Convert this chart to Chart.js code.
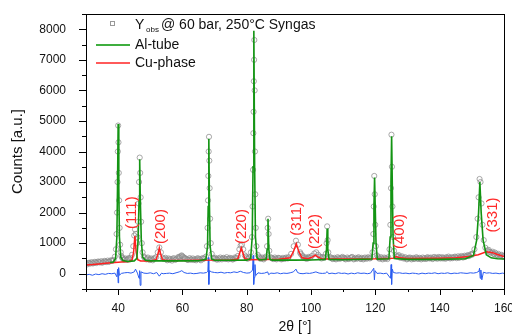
<!DOCTYPE html>
<html>
<head>
<meta charset="utf-8">
<script src="https://cdn.jsdelivr.net/npm/chart.js@4.4.1/dist/chart.umd.min.js"></script>
<style>
html, body { margin: 0; padding: 0; background: #fff; }
#wrap { width: 512px; height: 334px; }
</style>
</head>
<body>
<div id="wrap"><canvas id="xrd"></canvas></div>
<script>
// --- DATA (2theta [deg], counts) ---
const yObs = [
  [30,330],[31,360],[32,345],[33,370],[34,385],[35,360],[36,400],[37,390],[38,420],[38.6,450],
  [39.0,560],[39.3,800],[39.5,1300],[39.65,2000],[39.8,3000],[39.9,4000],[40.0,4850],[40.1,4300],
  [40.2,3300],[40.3,2400],[40.45,1500],[40.6,950],[40.8,700],[41.0,580],[41.5,500],[42,470],[43,480],
  [43.8,520],[44.3,620],[44.7,900],[45.0,1250],[45.25,1450],[45.5,1300],[45.8,1000],[46.0,1200],
  [46.2,1700],[46.35,2300],[46.5,3000],[46.7,3800],[46.85,3300],[47.0,2500],[47.15,1700],[47.35,1000],
  [47.6,700],[48,560],[49,500],[50,470],[51,480],[51.8,540],[52.3,700],[52.8,860],[53.3,700],[53.9,520],
  [55,470],[56,450],[57,480],[58,470],[59,520],[59.8,580],[60.6,520],[61.5,460],[62.5,470],[63.5,450],
  [64.5,480],[65.5,470],[66.5,490],[67.3,560],[67.6,900],[67.8,1500],[67.95,2400],[68.05,3200],
  [68.15,4000],[68.25,4480],[68.35,3700],[68.45,2800],[68.6,1800],[68.8,1000],[69.1,650],[69.6,520],
  [70.5,480],[71.5,470],[72.5,500],[73.5,480],[74.5,490],[75.5,470],[76.5,500],[77.2,580],[77.7,800],
  [78.1,920],[78.5,950],[78.9,800],[79.4,600],[80,520],[80.8,540],[81.3,700],[81.6,1200],[81.8,2200],
  [81.95,3400],[82.05,4600],[82.12,5300],[82.2,6300],[82.28,7000],[82.35,7650],[82.45,6000],
  [82.55,4000],[82.65,2600],[82.8,1500],[83.0,900],[83.4,620],[84,520],[85,500],[85.9,560],[86.3,900],
  [86.5,1500],[86.65,1800],[86.8,1300],[87.0,750],[87.4,540],[88,500],[89,490],[90,510],[91,480],
  [92,500],[93,540],[93.8,650],[94.6,900],[95.3,1080],[95.9,950],[96.6,700],[97.4,560],[98.3,500],
  [99.2,520],[100.2,580],[101.0,660],[101.6,700],[102.2,620],[103,540],[104,520],[104.6,650],
  [104.85,1000],[105.0,1550],[105.15,1100],[105.35,700],[105.8,540],[106.5,500],[107.5,490],
  [108.5,510],[109.5,520],[110.5,490],[111.5,500],[112.5,530],[113.5,490],[114.5,510],[115.5,480],
  [116.5,500],[117.5,510],[118.5,520],[119.1,700],[119.35,1300],[119.5,2200],[119.65,3200],
  [119.8,2600],[119.95,1600],[120.15,900],[120.5,600],[121,520],[122,500],[123,490],[124,540],
  [124.4,800],[124.65,1600],[124.85,2800],[125.0,4550],[125.15,3500],[125.3,2200],[125.5,1200],
  [125.8,750],[126.3,600],[127,580],[128,540],[129,510],[130,490],[131,500],[132,480],[133,510],
  [134,500],[135,490],[136,520],[137,510],[138,500],[139,530],[140,520],[141,500],[142,540],[143,520],
  [144,510],[145,540],[146,520],[147,550],[148,560],[149,580],[150,620],[150.8,800],[151.4,1200],
  [151.8,1800],[152.1,2500],[152.4,3100],[152.7,3000],[153.0,2300],[153.3,1600],[153.7,1100],
  [154.2,850],[154.8,760],[155.5,720],[156.2,680],[157,640],[158,610],[159,600],[160,580]
];

// extra observed points between the ones above (background band)
const yObsBg = [
  [30.25,300],[30.75,350],[31.25,330],[31.75,380],[32.25,340],[32.75,390],[33.25,350],[33.75,400],
  [34.25,370],[34.75,410],[35.25,380],[35.75,420],[36.25,380],[36.75,430],[37.25,400],[37.75,440],
  [38.25,430],[41.25,520],[41.75,460],[42.25,500],[42.75,450],[43.25,510],[43.75,470],
  [48.25,520],[48.75,470],[49.25,530],[49.75,450],[50.25,500],[50.75,440],[51.25,510],
  [54.25,480],[54.75,520],[55.25,440],[55.75,500],[56.25,480],[56.75,430],[57.25,510],[57.75,460],
  [58.25,500],[58.75,550],[59.25,560],[59.75,600],[60.25,550],[60.75,500],[61.25,490],[61.75,450],
  [62.25,510],[62.75,460],[63.25,500],[63.75,470],[64.25,440],[64.75,510],[65.25,480],[65.75,440],
  [66.25,510],[66.75,500],[69.75,490],[70.25,520],[70.75,460],[71.25,500],[71.75,530],[72.25,470],
  [72.75,520],[73.25,490],[73.75,540],[74.25,470],[74.75,520],[75.25,500],[75.75,470],[76.25,530],
  [76.75,520],[79.75,560],[80.25,490],[80.75,520],[83.75,560],[84.25,490],[84.75,530],[85.25,470],
  [85.75,520],[87.75,520],[88.25,480],[88.75,530],[89.25,470],[89.75,520],[90.25,500],[90.75,470],
  [91.25,520],[91.75,490],[92.25,530],[92.75,500],[96.75,650],[97.25,600],[97.75,520],[98.25,540],
  [98.75,490],[99.25,550],[99.75,530],[102.75,560],[103.25,500],[103.75,550],[106.25,530],
  [106.75,480],[107.25,520],[107.75,470],[108.25,540],[108.75,490],[109.25,500],[109.75,550],
  [110.25,520],[110.75,470],[111.25,530],[111.75,480],[112.25,510],[112.75,550],[113.25,470],
  [113.75,520],[114.25,490],[114.75,540],[115.25,500],[115.75,520],[116.25,470],[116.75,530],
  [117.25,490],[117.75,540],[118.25,500],[120.75,560],[121.25,490],[121.75,540],[122.25,470],
  [122.75,530],[123.25,510],[123.75,480],[126.75,560],[127.25,610],[127.75,520],[128.25,570],
  [128.75,500],[129.25,540],[129.75,470],[130.25,520],[130.75,530],[131.25,470],[131.75,520],
  [132.25,500],[132.75,540],[133.25,480],[133.75,520],[134.25,470],[134.75,530],[135.25,510],
  [135.75,480],[136.25,540],[136.75,500],[137.25,530],[137.75,480],[138.25,550],[138.75,510],
  [139.25,490],[139.75,550],[140.25,500],[140.75,540],[141.25,520],[141.75,490],[142.25,510],
  [142.75,560],[143.25,500],[143.75,540],[144.25,530],[144.75,560],[145.25,510],[145.75,570],
  [146.25,540],[146.75,580],[147.25,530],[147.75,590],[148.25,570],[148.75,610],[149.25,590],
  [149.75,640],[150.25,660],[155.25,780],[155.75,700],[156.5,720],[156.75,650],[157.25,690],
  [157.75,620],[158.25,650],[158.75,580],[159.25,620],[159.75,560]
];

const alTube = [
  [37.5,370],[38.5,385],[39.2,500],[39.6,1200],[39.8,2800],[40.0,4900],[40.2,2800],[40.4,1200],
  [40.8,550],[41.5,430],[43,400],[45,420],[45.8,500],[46.2,1100],[46.5,2400],[46.7,3750],[46.9,2400],
  [47.2,1100],[47.6,550],[48.5,440],[50,420],[55,420],[60,420],[65,425],[67.3,470],[67.8,900],
  [68.0,2200],[68.2,4420],[68.4,2200],[68.6,900],[69.1,480],[70,440],[75,440],[80,445],[81.2,500],
  [81.7,1200],[81.95,3500],[82.2,7950],[82.45,3500],[82.7,1200],[83.2,520],[84,450],[86.0,470],
  [86.35,800],[86.6,1800],[86.85,800],[87.2,470],[88,445],[95,445],[100,450],[104.4,470],[104.8,800],
  [105.0,1480],[105.2,800],[105.6,470],[110,455],[118.9,480],[119.3,1000],[119.55,2200],[119.75,3150],
  [119.95,2200],[120.2,1000],[120.6,480],[124.2,490],[124.6,1200],[124.85,3000],[125.05,4500],
  [125.25,3000],[125.5,1200],[125.9,500],[130,470],[140,470],[148,490],[150.5,600],[151.5,1100],
  [152.1,2000],[152.5,3000],[152.9,2000],[153.5,1100],[154.5,620],[156,520],[158,490],[160,480]
];

const cuPhase = [
  [30,285],[32,300],[34,320],[36,340],[38,360],[40,375],[42,390],[43.5,400],[44.3,450],[44.8,700],
  [45.2,1230],[45.6,700],[46.1,460],[47,415],[50,420],[51.8,460],[52.4,650],[52.8,840],[53.2,650],
  [53.8,460],[55,430],[60,435],[65,440],[70,445],[75,450],[77.2,480],[77.8,680],[78.3,850],[78.8,680],
  [79.4,490],[81,460],[85,462],[90,470],[93.5,520],[94.5,720],[95.4,980],[96.2,720],[97.2,520],
  [99,490],[100.5,550],[101.3,610],[102.1,550],[103.5,480],[110,480],[120,490],[125.5,510],
  [126.5,560],[127.5,520],[130,500],[140,510],[145,525],[149,560],[152,620],[154.5,720],[156.5,690],
  [158,630],[160,560]
];

const yDiff = [
  [30,-40],[31,-20],[32,-50],[33,-10],[34,-30],[35,0],[36,-20],[37,10],[38,0],[39,20],[39.6,-100],
  [39.85,150],[40.0,-300],[40.15,200],[40.4,-50],[41,10],[42,30],[43,40],[44,20],[45,60],[45.4,150],
  [46,20],[46.5,-150],[46.7,100],[46.85,-380],[47.1,60],[48,20],[49,10],[50,30],[51,0],[52,40],
  [52.8,-80],[53.5,20],[54,0],[55,10],[56,20],[57,0],[58,30],[59,60],[59.8,100],[60.5,40],[61.5,10],
  [62.5,20],[63.5,0],[64.5,10],[65.5,30],[66.5,20],[67.5,40],[67.9,80],[68.05,530],[68.2,-350],
  [68.4,100],[69,60],[70,40],[71,30],[72,50],[73,20],[74,40],[75,30],[76,60],[77,40],[78,80],[79,40],
  [80,20],[81,30],[81.8,120],[82.0,600],[82.15,-350],[82.35,-120],[82.55,300],[82.8,-60],[83.5,30],
  [84.5,10],[85.5,20],[86.5,60],[86.8,-30],[87.5,20],[88.5,10],[89.5,30],[90.5,0],[91.5,20],[92.5,10],
  [93.5,30],[94.5,60],[95.3,150],[95.8,40],[96.5,10],[97.5,0],[98.5,20],[99.5,10],[100.5,30],
  [101.5,60],[102.5,20],[103.5,10],[104.5,20],[105,70],[105.5,0],[106.5,20],[107.5,0],[108.5,30],
  [109.5,10],[110.5,20],[111.5,-10],[112.5,20],[113.5,0],[114.5,30],[115.5,10],[116.5,20],[117.5,0],
  [118.5,20],[119.5,180],[119.7,-200],[119.9,100],[120.5,10],[121.5,20],[122.5,0],[123.5,20],
  [124.7,-150],[124.9,300],[125.05,-350],[125.25,150],[125.6,40],[126.5,20],[127.5,30],[128.5,10],
  [129.5,20],[130.5,0],[131.5,20],[132.5,10],[133.5,-10],[134.5,20],[135.5,0],[136.5,20],[137.5,10],
  [138.5,30],[139.5,0],[140.5,20],[141.5,10],[142.5,30],[143.5,0],[144.5,20],[145.5,10],[146.5,30],
  [147.5,20],[148.5,10],[149.5,30],[150.5,20],[151.5,40],[152.2,80],[152.4,180],[152.6,-150],
  [152.8,120],[153.1,-200],[153.6,50],[154.5,20],[155.5,30],[156.5,10],[157.5,20],[158.5,0],
  [159.5,20],[160,10]
];

const hklLabels = ['(111)', '(200)', '(220)', '(311)', '(222)', '(400)', '(331)'];
const hklAt = [[44.4,1460],[53.2,970],[78.4,970],[95.6,1240],[101.3,810],[127.5,810],[156.5,1350]];

const xTickLabels = [40, 60, 80, 100, 120, 140, 160];
const yTickLabels = [0, 1000, 2000, 3000, 4000, 5000, 6000, 7000, 8000];

const FONT = 'Arial, "Liberation Sans", sans-serif';
const toXY = arr => arr.map(p => ({ x: p[0], y: p[1] }));

// frame, minor/major ticks, hkl labels and legend
const decorPlugin = {
  id: 'decor',
  afterDraw(chart) {
    const { ctx, chartArea: a, scales } = chart;
    const sx = scales.x, sy = scales.y;
    ctx.save();
    ctx.strokeStyle = '#000';
    ctx.lineWidth = 1;
    ctx.strokeRect(Math.round(a.left) + 0.5, Math.round(a.top) + 0.5,
      Math.round(a.right - a.left), Math.round(a.bottom - a.top));

    ctx.beginPath();
    sy.ticks.forEach(t => {
      const len = yTickLabels.includes(t.value) ? 7 : 4;
      const py = Math.round(sy.getPixelForValue(t.value)) + 0.5;
      ctx.moveTo(a.left - len, py);
      ctx.lineTo(a.left, py);
    });
    sx.ticks.forEach(t => {
      const len = xTickLabels.includes(t.value) ? 6 : 3;
      const px = Math.round(sx.getPixelForValue(t.value)) + 0.5;
      ctx.moveTo(px, a.bottom);
      ctx.lineTo(px, a.bottom + len);
    });
    ctx.stroke();

    // hkl labels, rotated
    ctx.fillStyle = '#ff2a2a';
    ctx.font = '15px ' + FONT;
    ctx.textAlign = 'left';
    ctx.textBaseline = 'middle';
    hklLabels.forEach((txt, i) => {
      const px = sx.getPixelForValue(hklAt[i][0]);
      const py = sy.getPixelForValue(hklAt[i][1]);
      ctx.save();
      ctx.translate(px, py);
      ctx.rotate(-Math.PI / 2);
      ctx.fillText(txt, 0, 0);
      ctx.restore();
    });

    // legend
    ctx.fillStyle = '#111';
    ctx.strokeStyle = '#999';
    ctx.lineWidth = 1;
    ctx.strokeRect(110.5, 21.5, 4, 4);
    ctx.font = '14px ' + FONT;
    ctx.fillText('Y', 135, 25);
    ctx.font = '8px ' + FONT;
    ctx.fillText('obs', 146, 30);
    ctx.font = '14px ' + FONT;
    ctx.fillText('@ 60 bar, 250°C Syngas', 161, 25);

    ctx.lineWidth = 2;
    ctx.strokeStyle = '#3fae3f';
    ctx.beginPath(); ctx.moveTo(96, 45); ctx.lineTo(130, 45); ctx.stroke();
    ctx.strokeStyle = '#ff5a5a';
    ctx.beginPath(); ctx.moveTo(96, 63); ctx.lineTo(130, 63); ctx.stroke();
    ctx.fillText('Al-tube', 135, 45);
    ctx.fillText('Cu-phase', 135, 63);
    ctx.restore();
  }
};

new Chart(document.getElementById('xrd'), {
  type: 'line',
  data: {
    datasets: [
      { label: 'Al-tube', data: toXY(alTube), borderColor: '#139413', borderWidth: 1.6,
        pointRadius: 0, order: 1 },
      { label: 'Cu-phase', data: toXY(cuPhase), borderColor: '#ff2020', borderWidth: 1.5,
        pointRadius: 0, order: 2 },
      { label: 'diff', data: toXY(yDiff), borderColor: '#2a5cf0', borderWidth: 1,
        pointRadius: 0, order: 3 },
      { label: 'Yobs', data: toXY(yObs.concat(yObsBg)), showLine: false, pointRadius: 2.6,
        pointBorderWidth: 1, pointBorderColor: 'rgba(140,140,140,0.75)',
        pointBackgroundColor: 'rgba(0,0,0,0)', order: 4 }
    ]
  },
  options: {
    responsive: true,
    maintainAspectRatio: false,
    animation: false,
    layout: { padding: { left: 0, right: 8, top: 14, bottom: 0 } },
    plugins: { legend: { display: false }, tooltip: { enabled: false } },
    scales: {
      x: {
        type: 'linear', min: 30, max: 160,
        grid: { display: false }, border: { display: false },
        ticks: {
          stepSize: 10, padding: 4, color: '#111', font: { family: FONT, size: 12 },
          maxRotation: 0, autoSkip: false,
          callback: v => xTickLabels.includes(v) ? v : ''
        },
        title: { display: true, text: '2θ [°]', color: '#111',
          font: { family: FONT, size: 14, lineHeight: 1 }, padding: { top: 0, bottom: 0 } },
        afterFit: s => { s.height = 45; s.paddingLeft = 0; s.paddingRight = 0; }
      },
      y: {
        type: 'linear', min: -500, max: 8500,
        grid: { display: false }, border: { display: false },
        ticks: {
          stepSize: 500, padding: 12, color: '#111', font: { family: FONT, size: 12 },
          autoSkip: false,
          callback: v => yTickLabels.includes(v) ? v : ''
        },
        title: { display: true, text: 'Counts [a.u.]', color: '#111', font: { family: FONT, size: 15 },
          padding: { top: 9, bottom: 0 } },
        afterFit: s => { s.width = 86; s.paddingTop = 0; s.paddingBottom = 0; }
      }
    }
  },
  plugins: [decorPlugin]
});
</script>
</body>
</html>
